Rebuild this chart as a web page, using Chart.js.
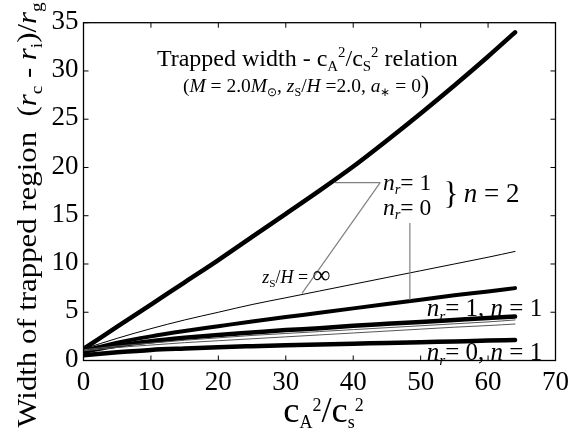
<!DOCTYPE html>
<html><head><meta charset="utf-8">
<script src="https://cdn.jsdelivr.net/npm/chart.js@4.4.1/dist/chart.umd.min.js"></script>
<style>html,body{margin:0;padding:0;background:#fff;}canvas{display:block}</style>
</head><body>
<canvas id="c" width="575" height="432"></canvas>
<script>
// ---- data ----
const xValues   = [0, 5, 10, 15, 20, 25, 30, 35, 40, 45, 50, 55, 60, 64];
const n2nr1Thick = [1.2, 3.5, 5.8, 8.1, 10.4, 12.8, 15.2, 17.6, 20.1, 22.8, 25.6, 28.5, 31.5, 34.0];
const n2nr1Inf   = [1.2, 2.3, 3.3, 4.2, 5.0, 5.8, 6.5, 7.2, 7.9, 8.6, 9.3, 10.0, 10.7, 11.3];
const n2nr0Thick = [1.0, 1.85, 2.5, 3.05, 3.55, 4.05, 4.5, 4.95, 5.4, 5.85, 6.3, 6.75, 7.15, 7.5];
const n1nr1Thick = [0.9, 1.55, 2.0, 2.35, 2.65, 2.9, 3.15, 3.35, 3.6, 3.8, 4.0, 4.2, 4.4, 4.55];
const thinA      = [1.1, 1.5, 1.8, 2.1, 2.35, 2.6, 2.8, 3.0, 3.2, 3.4, 3.6, 3.8, 4.0, 4.2];
const thinB      = [1.0, 1.35, 1.6, 1.85, 2.05, 2.25, 2.45, 2.65, 2.85, 3.05, 3.25, 3.45, 3.62, 3.78];
const n1nr0Thick = [0.55, 0.85, 1.1, 1.25, 1.38, 1.48, 1.57, 1.65, 1.73, 1.82, 1.9, 1.98, 2.06, 2.12];
const xTicks = [0, 10, 20, 30, 40, 50, 60, 70];
const yTicks = [0, 5, 10, 15, 20, 25, 30, 35];
const xTickLabels = ['0','10','20','30','40','50','60','70'];
const yTickLabels = ['0','5','10','15','20','25','30','35'];

const FONT = '"Liberation Serif", "Times New Roman", serif';
function segFont(seg, size){
  const k = seg.k || (seg.b ? 0.62 : 1);
  return (seg.i ? 'italic ' : '') + (size*k).toFixed(1) + 'px ' + FONT;
}
function richWidth(ctx, segs, size){
  let w = 0;
  for (const s of segs){ ctx.font = segFont(s, size); w += ctx.measureText(s.t).width; }
  return w;
}
function drawRich(ctx, segs, x, y, size, align, rot, sx){
  ctx.save();
  ctx.translate(x, y);
  if (rot) ctx.rotate(rot);
  if (sx) ctx.scale(sx, 1);
  const w = richWidth(ctx, segs, size);
  let cx = align === 'center' ? -w/2 : (align === 'right' ? -w : 0);
  ctx.textBaseline = 'alphabetic'; ctx.textAlign = 'left'; ctx.fillStyle = '#000';
  for (const s of segs){
    ctx.font = segFont(s, size);
    let dy = size*0.33;
    if (s.b === 'sub') dy += size*0.2;
    if (s.b === 'sup') dy -= size*0.38;
    if (s.dy) dy += s.dy*size;
    ctx.fillText(s.t, cx, dy);
    cx += ctx.measureText(s.t).width;
  }
  ctx.restore();
}

const texts = [
  {x:33.2, y:31.3, size:24, align:'center', segs:[{t:'Trapped width - c'},{t:'A',b:'sub'},{t:'2',b:'sup'},{t:'/c'},{t:'S',b:'sub'},{t:'2',b:'sup'},{t:' relation'}]},
  {x:33.0, y:28.5, size:19.5, align:'center', segs:[{t:'('},{t:'M',i:1},{t:' = 2.0'},{t:'M',i:1},{t:'⊙',b:'sub'},{t:', '},{t:'z',i:1},{t:'S',b:'sub'},{t:'/'},{t:'H',i:1},{t:' =2.0, '},{t:'a',i:1},{t:'∗',b:'sub'},{t:' = 0'},{t:')',k:1.25,dy:0.04}]},
  {x:44.4, y:18.5, size:23.5, align:'left', segs:[{t:'n',i:1},{t:'r',i:1,b:'sub'},{t:'= 1'}]},
  {x:44.4, y:15.9, size:23.5, align:'left', segs:[{t:'n',i:1},{t:'r',i:1,b:'sub'},{t:'= 0'}]},
  {x:53.4, y:17.3, size:31, align:'left', segs:[{t:'}'}]},
  {x:56.4, y:17.3, size:27, align:'left', segs:[{t:'n',i:1},{t:' = 2'}]},
  {x:26.5, y:8.65, size:18, align:'left', segs:[{t:'z',i:1},{t:'S',b:'sub'},{t:'/'},{t:'H',i:1},{t:' = '},{t:'∞',k:1.4,dy:0.02}]},
  {x:50.9, y:5.44, size:25, align:'left', segs:[{t:'n',i:1},{t:'r',i:1,b:'sub'},{t:'= 1, '},{t:'n',i:1},{t:' = 1'}]},
  {x:50.9, y:0.95, size:25, align:'left', segs:[{t:'n',i:1},{t:'r',i:1,b:'sub'},{t:'= 0, '},{t:'n',i:1},{t:' = 1'}]}
];
const leaders = [
  [[37.3, 18.42], [44.0, 18.42]],
  [[44.0, 18.42], [32.4, 6.96]],
  [[48.4, 14.25], [48.4, 6.27]]
];

const decor = {
  id: 'decor',
  afterDatasetsDraw(chart){
    const ctx = chart.ctx, a = chart.chartArea;
    const xs = chart.scales.x, ys = chart.scales.y;
    ctx.save();
    // leader lines
    ctx.strokeStyle = '#808080'; ctx.lineWidth = 1.2;
    for (const L of leaders){
      ctx.beginPath();
      ctx.moveTo(xs.getPixelForValue(L[0][0]), ys.getPixelForValue(L[0][1]));
      ctx.lineTo(xs.getPixelForValue(L[1][0]), ys.getPixelForValue(L[1][1]));
      ctx.stroke();
    }
    // box
    ctx.strokeStyle = '#000'; ctx.lineWidth = 1.3;
    ctx.strokeRect(a.left, a.top, a.right - a.left, a.bottom - a.top);
    // inward ticks
    ctx.lineWidth = 1;
    const tl = 5;
    ctx.beginPath();
    for (const v of xTicks){
      const px = xs.getPixelForValue(v);
      ctx.moveTo(px, a.bottom); ctx.lineTo(px, a.bottom - tl);
      ctx.moveTo(px, a.top); ctx.lineTo(px, a.top + tl);
    }
    for (const v of yTicks){
      const py = ys.getPixelForValue(v);
      ctx.moveTo(a.left, py); ctx.lineTo(a.left + tl, py);
      ctx.moveTo(a.right, py); ctx.lineTo(a.right - tl, py);
    }
    ctx.stroke();
    // tick labels
    ctx.fillStyle = '#000';
    ctx.font = '27px ' + FONT;
    ctx.textAlign = 'center'; ctx.textBaseline = 'middle';
    xTicks.forEach((v, i) => ctx.fillText(xTickLabels[i], xs.getPixelForValue(v), a.bottom + 22));
    ctx.textAlign = 'right';
    yTicks.forEach((v, i) => ctx.fillText(yTickLabels[i], a.left - 5, ys.getPixelForValue(v) - 1));
    // axis titles
    drawRich(ctx, [{t:'c',k:1.25},{t:'A',b:'sub'},{t:'2',b:'sup'},{t:'/c',k:1.25},{t:'s',b:'sub'},{t:'2',b:'sup'}],
      (a.left + a.right)/2 + 4, a.bottom + 52, 29, 'center');
    drawRich(ctx, [{t:'Width of trapped region  ('},{t:'r',i:1},{t:'c',b:'sub'},{t:' - '},{t:'r',i:1},{t:'i',b:'sub'},{t:')/'},{t:'r',i:1},{t:'g',b:'sub'}],
      27, 215, 28, 'center', -Math.PI/2, 1.1);
    // annotations
    for (const T of texts){
      drawRich(ctx, T.segs, xs.getPixelForValue(T.x), ys.getPixelForValue(T.y), T.size, T.align);
    }
    ctx.restore();
  }
};

function mk(vals, w, color){
  return {data: xValues.map((x, i) => ({x, y: vals[i]})), borderColor: color, borderWidth: w,
    pointRadius: 0, fill: false, cubicInterpolationMode: 'monotone', borderCapStyle: 'round'};
}

new Chart(document.getElementById('c'), {
  type: 'line',
  data: { datasets: [
    mk(thinB, 1, '#555'),
    mk(thinA, 1, '#555'),
    mk(n2nr1Inf, 1, '#000'),
    mk(n1nr0Thick, 4.5, '#000'),
    mk(n1nr1Thick, 4.5, '#000'),
    mk(n2nr0Thick, 4, '#000'),
    mk(n2nr1Thick, 4.5, '#000')
  ]},
  options: {
    responsive: false, animation: false,
    layout: { padding: { left: 83.5, right: 19.5, top: 22.7, bottom: 71.5 } },
    plugins: { legend: { display: false }, tooltip: { enabled: false } },
    scales: {
      x: { type: 'linear', min: 0, max: 70, display: false },
      y: { type: 'linear', min: 0, max: 35, display: false }
    }
  },
  plugins: [decor]
});
</script>
</body></html>
